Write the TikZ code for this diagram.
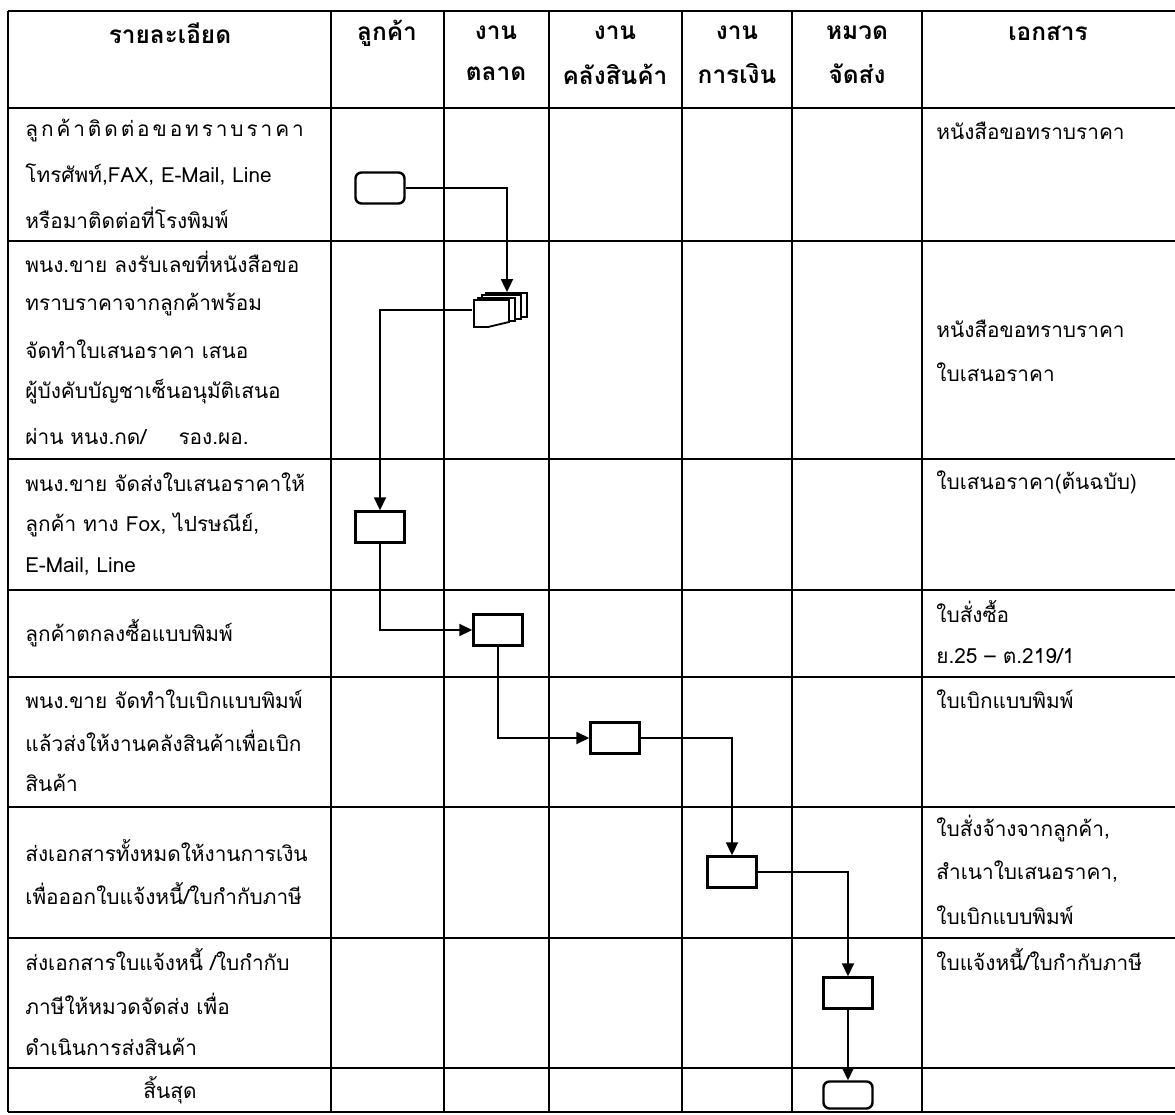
\documentclass[tikz,border=0pt]{standalone}
\usepackage{fontspec}
\newfontfamily\thaifont[Script=Thai]{Loma}
\usetikzlibrary{arrows.meta}

\begin{document}
\begin{tikzpicture}[
    x=0.5pt, y=-0.5pt,
    every node/.style={font=\thaifont\fontsize{10.4}{12}\selectfont, inner sep=0pt},
    head/.style={font=\thaifont\bfseries\fontsize{12.2}{14}\selectfont},
    txt/.style={anchor=west},
    grid/.style={line width=1pt},
    box/.style={draw, line width=1.2pt, minimum width=24.5pt, minimum height=15.5pt},
    endbox/.style={box, rounded corners=3pt},
    page/.style={draw, fill=white, line width=0.9pt},
    flow/.style={line width=0.9pt, -{Triangle[length=6.5pt,width=6pt]}}
]
\useasboundingbox (0,0) rectangle (1175,1115);

% Table
\draw[grid] (8,11) -- (1175,11);
\draw[grid] (8,108) -- (1175,108);
\draw[grid] (8,241) -- (1175,241);
\draw[grid] (8,459) -- (1175,459);
\draw[grid] (8,590) -- (1175,590);
\draw[grid] (8,677) -- (1175,677);
\draw[grid] (8,807) -- (1175,807);
\draw[grid] (8,938) -- (1175,938);
\draw[grid] (8,1068) -- (1175,1068);
\draw[grid] (8,1112) -- (1175,1112);
\draw[grid, line width=1.3pt] (8,11) -- (8,1112);
\draw[grid] (331,11) -- (331,1112);
\draw[grid, line width=0.6pt] (444,11) -- (444,1112);
\draw[grid] (549,11) -- (549,1112);
\draw[grid] (682,11) -- (682,1112);
\draw[grid] (792,11) -- (792,1112);
\draw[grid] (922,11) -- (922,1112);

% Header
\node[head] (hdesc) at (170,33) {รายละเอียด};
\node[head] (hcust) at (387,33) {ลูกค้า};
\node[head] (hmkt1) at (496,33) {งาน};
\node[head] (hmkt2) at (496,74) {ตลาด};
\node[head] (hstk1) at (615,33) {งาน};
\node[head] (hstk2) at (615,74) {คลังสินค้า};
\node[head] (hfin1) at (737,33) {งาน};
\node[head] (hfin2) at (737,74) {การเงิน};
\node[head] (hdel1) at (857,33) {หมวด};
\node[head] (hdel2) at (857,74) {จัดส่ง};
\node[head] (hdoc) at (1048,33) {เอกสาร};

% Steps
\node[txt] (s1a) at (25,131) {\addfontfeature{LetterSpace=14}ลูกค้าติดต่อขอทราบราคา};
\node[txt] (s1b) at (25,175) {โทรศัพท์,FAX, E-Mail, Line};
\node[txt] (s1c) at (25,218) {หรือมาติดต่อที่โรงพิมพ์};
\node[txt] (s2a) at (25,262) {พนง.ขาย ลงรับเลขที่หนังสือขอ};
\node[txt] (s2b) at (25,305) {ทราบราคาจากลูกค้าพร้อม};
\node[txt] (s2c) at (25,349) {จัดทำใบเสนอราคา เสนอ};
\node[txt] (s2d) at (25,392) {ผู้บังคับบัญชาเซ็นอนุมัติเสนอ};
\node[txt] (s2e) at (25,436) {ผ่าน หนง.กด/\hspace{16pt}รอง.ผอ.};
\node[txt] (s3a) at (25,482) {พนง.ขาย จัดส่งใบเสนอราคาให้};
\node[txt] (s3b) at (25,525) {ลูกค้า ทาง Fox, ไปรษณีย์,};
\node[txt] (s3c) at (25,567) {E-Mail, Line};
\node[txt] (s4a) at (25,633) {ลูกค้าตกลงซื้อแบบพิมพ์};
\node[txt] (s5a) at (25,699) {พนง.ขาย จัดทำใบเบิกแบบพิมพ์};
\node[txt] (s5b) at (25,741) {แล้วส่งให้งานคลังสินค้าเพื่อเบิก};
\node[txt] (s5c) at (25,783) {สินค้า};
\node[txt] (s6a) at (25,851) {ส่งเอกสารทั้งหมดให้งานการเงิน};
\node[txt] (s6b) at (25,894) {เพื่อออกใบแจ้งหนี้/ใบกำกับภาษี};
\node[txt] (s7a) at (25,960) {ส่งเอกสารใบแจ้งหนี้ /ใบกำกับ};
\node[txt] (s7b) at (25,1004) {ภาษีให้หมวดจัดส่ง เพื่อ};
\node[txt] (s7c) at (25,1047) {ดำเนินการส่งสินค้า};
\node (s8a) at (170,1090) {สิ้นสุด};

% Documents
\node[txt] (d1a) at (936,131) {หนังสือขอทราบราคา};
\node[txt] (d2a) at (936,329) {หนังสือขอทราบราคา};
\node[txt] (d2b) at (936,372) {ใบเสนอราคา};
\node[txt] (d3a) at (936,482) {ใบเสนอราคา(ต้นฉบับ)};
\node[txt] (d4a) at (936,612) {ใบสั่งซื้อ};
\node[txt] (d4b) at (936,656) {ย.25 – ต.219/1};
\node[txt] (d5a) at (936,699) {ใบเบิกแบบพิมพ์};
\node[txt] (d6a) at (936,829) {ใบสั่งจ้างจากลูกค้า,};
\node[txt] (d6b) at (936,872) {สำเนาใบเสนอราคา,};
\node[txt] (d6c) at (936,915) {ใบเบิกแบบพิมพ์};
\node[txt] (d7a) at (936,960) {ใบแจ้งหนี้/ใบกำกับภาษี};

% Flow symbols
\node[endbox] (b1) at (380,188) {};
\node[minimum width=27.5pt, minimum height=17.5pt] (doc2) at (500,310) {};
\node[box] (b3) at (380,527) {};
\node[box] (b4) at (498,630) {};
\node[box] (b5) at (615,738) {};
\node[box] (b6) at (732,872) {};
\node[box] (b7) at (848,993) {};
\node[endbox, minimum height=13.5pt] (b8) at (848,1095) {};

% Stacked documents
\begin{scope}[shift={(doc2.center)}]
\draw[page] (-14,-17) -- (27,-17) -- (27,7) -- (-14,7) -- cycle;
\draw[page] (-18,-15) -- (21,-15) -- (21,9) -- (-18,9) -- cycle;
\draw[page] (-22,-12) -- (15,-12) -- (15,11) -- (-22,11) -- cycle;
\draw[page] (-26,-10) -- (9,-10) -- (9,12) -- (-12,17) -- (-26,17) -- cycle;
\end{scope}

% Edges
\draw[flow] (b1.east) -| ([xshift=3.5pt]doc2.north);
\draw[flow] (doc2.west) -| (b3.north);
\draw[flow] (b3.south) |- (b4.west);
\draw[flow] (b4.south) |- (b5.west);
\draw[flow] (b5.east) -| (b6.north);
\draw[flow] (b6.east) -| (b7.north);
\draw[flow] (b7.south) -- (b8.north);

\end{tikzpicture}
\end{document}
